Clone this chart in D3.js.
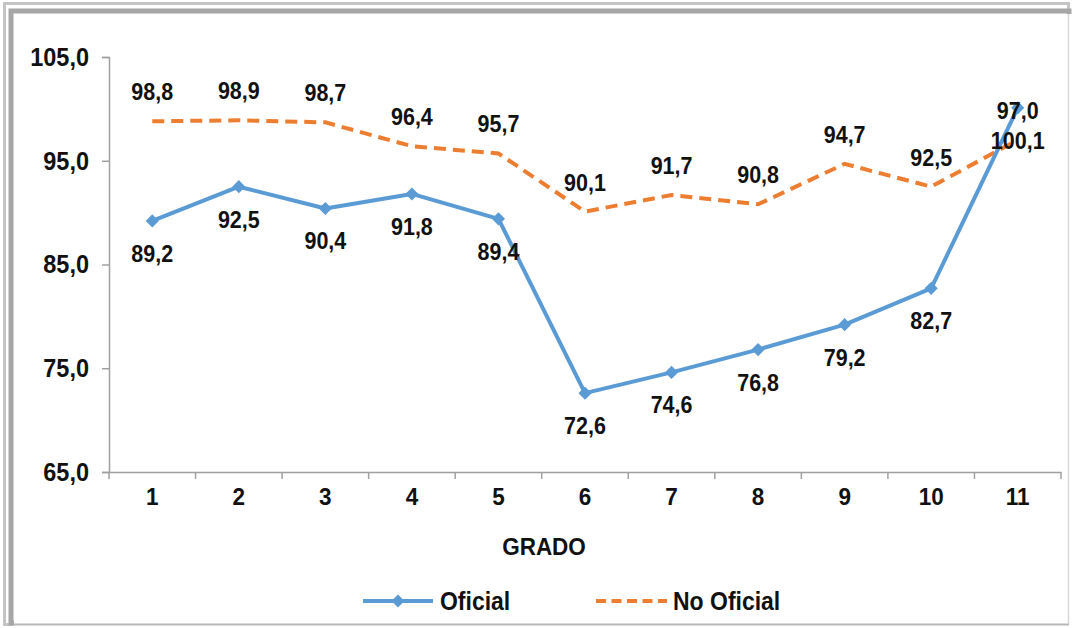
<!DOCTYPE html>
<html><head><meta charset="utf-8">
<script src="https://cdn.jsdelivr.net/npm/d3@7"></script>
<style>
html,body{margin:0;padding:0;background:#fff;}
svg{display:block;font-family:"Liberation Sans",Arial,sans-serif;}
</style></head>
<body><svg id="c" width="1072" height="628"></svg>
<script>
const categories = ["1","2","3","4","5","6","7","8","9","10","11"];
const oficial = [89.2, 92.5, 90.4, 91.8, 89.4, 72.6, 74.6, 76.8, 79.2, 82.7, 100.1];
const noOficial = [98.8, 98.9, 98.7, 96.4, 95.7, 90.1, 91.7, 90.8, 94.7, 92.5, 97.0];
const yTicks = [65, 75, 85, 95, 105];
const seriesNames = ["Oficial", "No Oficial"];
const xTitle = "GRADO";

(function(){
const svg = d3.select("#c");
const W = 1072, H = 628;
const pLeft = 109, pRight = 1061, pTop = 57, pBottom = 472;
const SY = 1.1;

// frame
svg.append("rect").attr("x",0).attr("y",0).attr("width",W).attr("height",H).attr("fill","#fff");
svg.append("rect").attr("x",4.5).attr("y",3.5).attr("width",1064).attr("height",621)
  .attr("fill","none").attr("stroke","#c4c4c4").attr("stroke-width",3);
svg.append("rect").attr("x",11).attr("y",11).attr("width",1058).attr("height",612)
  .attr("fill","none").attr("stroke","#a6a6a6").attr("stroke-width",5);
svg.append("rect").attr("x",14).attr("y",14).attr("width",1060).attr("height",612)
  .attr("fill","#fff");
svg.append("line").attr("x1",1068.5).attr("x2",1068.5).attr("y1",14).attr("y2",624).attr("stroke","#d8d8d8").attr("stroke-width",1.5);
svg.append("line").attr("x1",14).attr("x2",1069).attr("y1",624.5).attr("y2",624.5).attr("stroke","#b8b8b8").attr("stroke-width",2);

const fmt = v => d3.format(".1f")(v).replace(".", ",");

const x = d3.scaleBand().domain(categories).range([pLeft, pRight]).padding(0);
const y = d3.scaleLinear().domain([65, 105]).range([pBottom, pTop]);
const cx = c => x(c) + x.bandwidth()/2;

// y axis
const yAxis = svg.append("g").attr("transform",`translate(${pLeft},0)`)
  .call(d3.axisLeft(y).tickValues(yTicks).tickFormat(fmt).tickSize(7).tickPadding(13));
yAxis.select(".domain").attr("stroke","#a0a0a0").attr("stroke-width",1.5);
yAxis.selectAll(".tick line").attr("stroke","#a0a0a0").attr("stroke-width",1.5);
yAxis.selectAll(".tick text").attr("font-size",23.5).attr("font-weight","bold").attr("fill","#111")
  .attr("font-family","'Liberation Sans',Arial,sans-serif").attr("transform",`scale(1,${SY})`);

// x axis
const xAxis = svg.append("g").attr("transform",`translate(0,${pBottom})`)
  .call(d3.axisBottom(x).tickSize(0).tickPadding(14));
xAxis.select(".domain").attr("stroke","#a0a0a0").attr("stroke-width",1.5);
xAxis.selectAll(".tick text").attr("font-size",22.5).attr("font-weight","bold").attr("fill","#111")
  .attr("font-family","'Liberation Sans',Arial,sans-serif").attr("transform",`scale(1,${SY})`);
const bounds = categories.map(c => x(c)).concat([pRight]);
svg.append("g").selectAll("line").data(bounds).join("line")
  .attr("x1",d=>d).attr("x2",d=>d).attr("y1",pBottom).attr("y2",pBottom+7)
  .attr("stroke","#a0a0a0").attr("stroke-width",1.5);

function stretchText(sel, tx, ty){
  sel.attr("transform", (d,i)=>`translate(${typeof tx==="function"?tx(d,i):tx},${typeof ty==="function"?ty(d,i):ty}) scale(1,${SY})`);
}

stretchText(svg.append("text").attr("text-anchor","middle")
  .attr("font-size",22.5).attr("font-weight","bold").attr("fill","#111").text(xTitle), 544, 555);

const line = d3.line().x((d,i)=>cx(categories[i])).y(d=>y(d));
const blue = "#5B9BD5", orange = "#ED7D31";

svg.append("path").datum(noOficial).attr("d",line).attr("fill","none")
  .attr("stroke",orange).attr("stroke-width",4).attr("stroke-dasharray","12,7");
svg.append("path").datum(oficial).attr("d",line).attr("fill","none")
  .attr("stroke",blue).attr("stroke-width",4).attr("stroke-linejoin","round");

const diamond = d3.symbol().type(d3.symbolDiamond2).size(110);
svg.append("g").selectAll("path").data(oficial).join("path")
  .attr("d",diamond).attr("transform",(d,i)=>`translate(${cx(categories[i])},${y(d)})`)
  .attr("fill",blue);

stretchText(svg.append("g").selectAll("text").data(oficial).join("text")
  .attr("text-anchor","middle").attr("font-size",21.5).attr("font-weight","bold").attr("fill","#111")
  .text(fmt), (d,i)=>cx(categories[i]), d=>y(d)+33+8);
stretchText(svg.append("g").selectAll("text").data(noOficial).join("text")
  .attr("text-anchor","middle").attr("font-size",21.5).attr("font-weight","bold").attr("fill","#111")
  .text(fmt), (d,i)=>cx(categories[i]), d=>y(d)-29+8);

const lg = svg.append("g");
lg.append("line").attr("x1",363).attr("x2",433).attr("y1",601).attr("y2",601).attr("stroke",blue).attr("stroke-width",4);
lg.append("path").attr("d",diamond).attr("transform","translate(398,601)").attr("fill",blue);
stretchText(lg.append("text").attr("font-size",23).attr("font-weight","bold").attr("fill","#111").text(seriesNames[0]), 440, 610);
lg.append("line").attr("x1",596).attr("x2",667).attr("y1",601).attr("y2",601).attr("stroke",orange).attr("stroke-width",4).attr("stroke-dasharray","10,5.5");
stretchText(lg.append("text").attr("font-size",23).attr("font-weight","bold").attr("fill","#111").text(seriesNames[1]), 673, 610);
})();
</script></body></html>
